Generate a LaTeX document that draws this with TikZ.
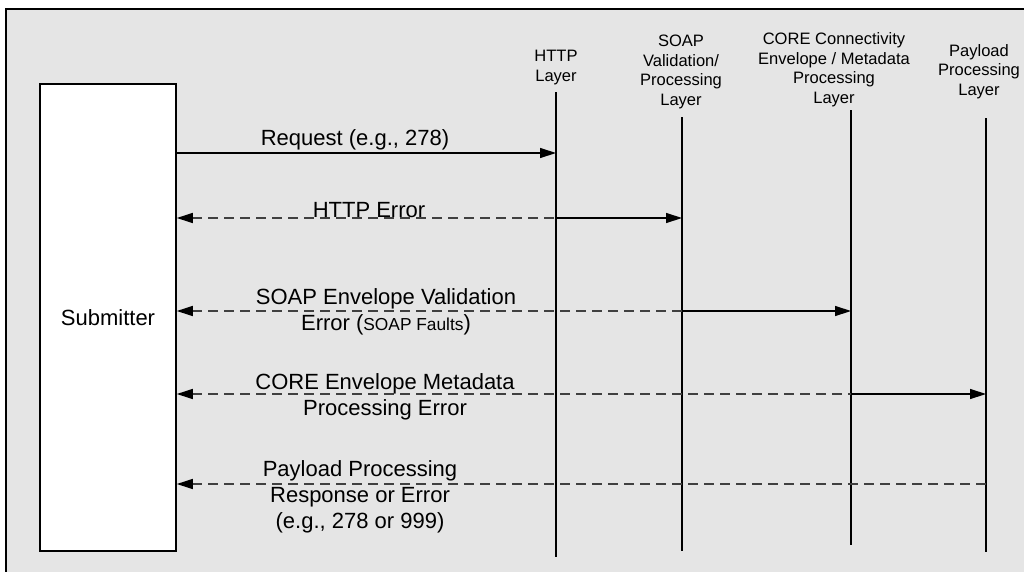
\documentclass[tikz,border=0pt]{standalone}
\usepackage{fontspec}
\setmainfont{Liberation Sans}
\usetikzlibrary{arrows.meta}
\definecolor{bg}{HTML}{E5E5E5}
\definecolor{dashc}{HTML}{404040}
\begin{document}
\begin{tikzpicture}[x=0.75pt,y=-0.75pt,
  life/.style={line width=0.9pt},
  msg/.style={line width=1pt},
  dsh/.style={line width=1pt, draw=dashc, dash pattern=on 7.5pt off 4.5pt},
  tipr/.style={-{Triangle[length=12pt,width=7.5pt,color=black]}},
  tipl/.style={{Triangle[length=12pt,width=7.5pt,color=black]}-},
  head/.style={font=\fontsize{12.4}{14.55}\selectfont, align=center, inner sep=0pt, anchor=base},
  lab/.style={font=\fontsize{16.5}{19.5}\selectfont, align=center, inner sep=0pt, anchor=base},
]
\useasboundingbox (0,0) rectangle (1024,571);
\clip (0,0) rectangle (1024,571);
\fill[white] (0,0) rectangle (1024,571);
\draw[fill=bg, line width=1.5pt] (6,9) rectangle (1040,590);

% submitter
\node[draw, fill=white, line width=1.2pt, minimum width=102pt, minimum height=350.25pt,
      inner sep=0pt, font=\fontsize{16.5}{19.5}\selectfont] (sub) at (108,317.5) {Submitter};

% lifeline heads (anchor = baseline of last line)
\node[head] (hhttp) at (556,81) {HTTP\\Layer};
\node[head] (hsoap) at (681,105) {SOAP\\Validation/\\Processing\\Layer};
\node[head] (hcore) at (834,103) {CORE Connectivity\\Envelope / Metadata\\Processing\\Layer};
\node[head] (hpay) at (979,95) {Payload\\Processing\\Layer};

% lifelines
\coordinate (httpT) at (556,92);  \coordinate (httpB) at (556,557);
\coordinate (soapT) at (682,117); \coordinate (soapB) at (682,551);
\coordinate (coreT) at (851,110); \coordinate (coreB) at (851,545);
\coordinate (payT) at (986,118);  \coordinate (payB) at (986,552);
\draw[life] (httpT) -- (httpB);
\draw[life] (soapT) -- (soapB);
\draw[life] (coreT) -- (coreB);
\draw[life] (payT) -- (payB);

% message points
\coordinate (h1) at (556,153);
\coordinate (h2) at (556,218); \coordinate (s2) at (682,218);
\coordinate (s3) at (682,311); \coordinate (c3) at (851,311);
\coordinate (c4) at (851,394); \coordinate (p4) at (986,394);
\coordinate (p5) at (986,484);

% request
\draw[msg, tipr] (sub.east |- h1) -- (h1);
% HTTP error
\draw[dsh, tipl] (sub.east |- h2) -- (h2);
\draw[msg, tipr] (h2) -- (s2);
% SOAP error
\draw[dsh, tipl] (sub.east |- s3) -- (s3);
\draw[msg, tipr] (s3) -- (c3);
% CORE error
\draw[dsh, tipl] (sub.east |- c4) -- (c4);
\draw[msg, tipr] (c4) -- (p4);
% payload
\draw[dsh, tipl] (sub.east |- p5) -- (p5);

% labels (anchor = baseline of last line)
\node[lab] (l1) at (355,145) {Request (e.g., 278)};
\node[lab] (l2) at (369,217) {HTTP Error};
\node[lab] (l3) at (386,330) {SOAP Envelope Validation\\Error ({\fontsize{13}{14}\selectfont SOAP Faults})};
\node[lab] (l4) at (385,415) {CORE Envelope Metadata\\Processing Error};
\node[lab] (l5) at (360,528) {Payload Processing\\Response or Error\\(e.g., 278 or 999)};
\end{tikzpicture}
\end{document}
